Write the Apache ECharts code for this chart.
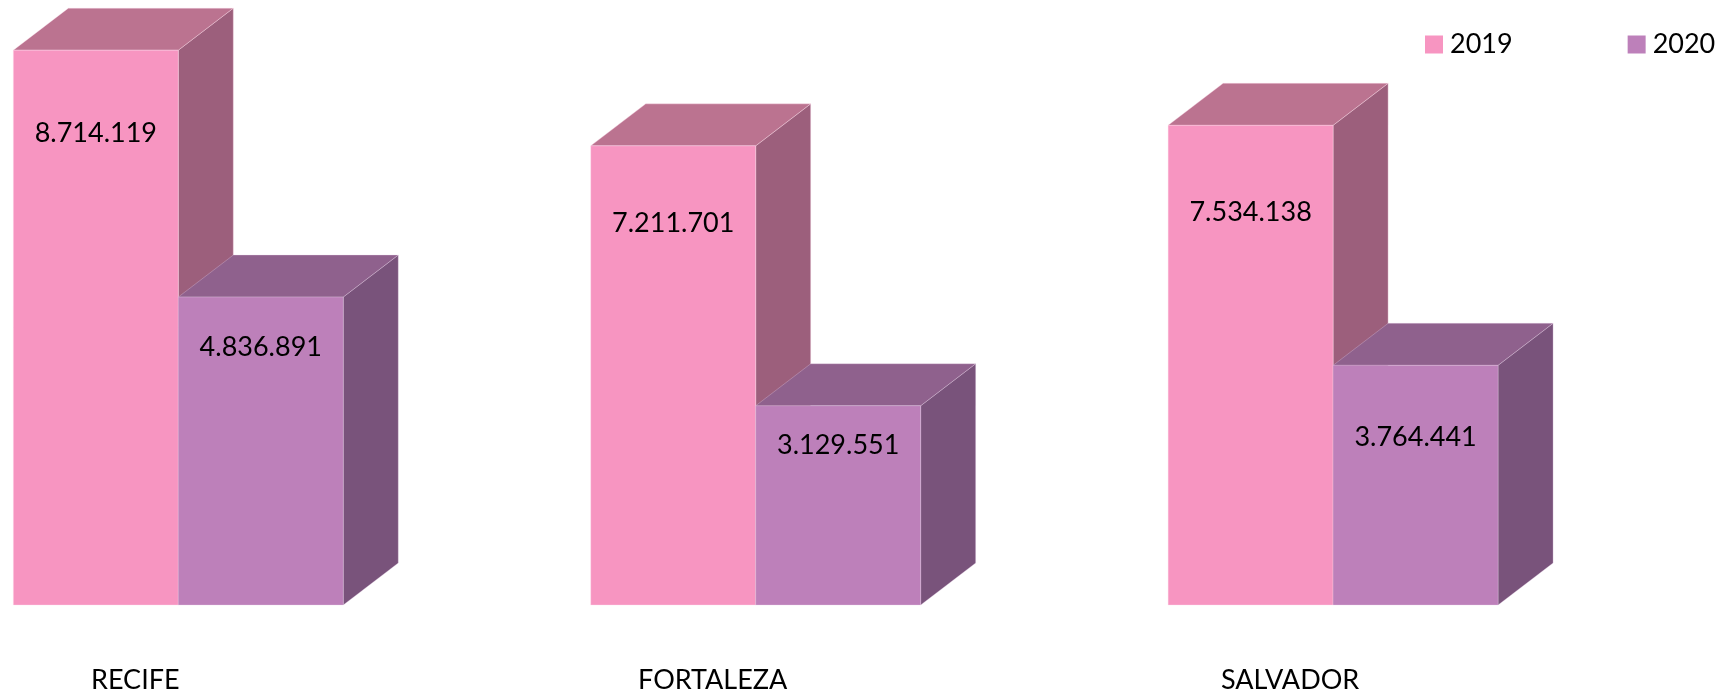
<!DOCTYPE html>
<html>
<head>
<meta charset="utf-8">
<script src="https://cdn.jsdelivr.net/npm/echarts@6/dist/echarts.min.js"></script>
<style>
html,body{margin:0;padding:0;background:#fff;}
#chart{width:1726px;height:693px;}
</style>
</head>
<body>
<div id="chart"></div>
<script>
const categories = ['RECIFE', 'FORTALEZA', 'SALVADOR'];
const seriesNames = ['2019', '2020'];
const values2019 = [8714119, 7211701, 7534138];
const values2020 = [4836891, 3129551, 3764441];

// label placement (pixels below each bar's top edge) – style only
const labelOffsets = [[83, 77, 87], [50, 40, 72]];

function fmt(v) {
  return String(v).replace(/\B(?=(\d{3})+(?!\d))/g, '.');
}

const palettes = [
  { front: '#F795C1', side: '#9C5F7C', top: '#BB7390', edge: 'rgba(255,220,235,0.6)' },
  { front: '#BD80BA', side: '#79537B', top: '#8F618D', edge: 'rgba(235,210,235,0.5)' }
];
const FONT = 'Lato, "Open Sans", sans-serif';

function makeRender(si) {
  const pal = palettes[si];
  return function (params, api) {
    const cat = api.value(0);
    const val = api.value(1);
    const base = api.coord([cat, 0]);
    const topPt = api.coord([cat, val]);
    const band = api.size([1, 0])[0];
    const w = band * 0.2857;
    const x0 = si === 0 ? base[0] - w : base[0];
    const x1 = x0 + w;
    const yb = base[1];
    const yt = topPt[1];
    const dx = 55, dy = 42;
    return {
      type: 'group',
      children: [
        {
          type: 'polygon',
          shape: { points: [[x1, yt], [x1 + dx, yt - dy], [x1 + dx, yb - dy], [x1, yb]] },
          style: { fill: pal.side, stroke: pal.edge, lineWidth: 0.6 }
        },
        {
          type: 'polygon',
          shape: { points: [[x0, yt], [x0 + dx, yt - dy], [x1 + dx, yt - dy], [x1, yt]] },
          style: { fill: pal.top, stroke: pal.edge, lineWidth: 0.6 }
        },
        {
          type: 'rect',
          shape: { x: x0, y: yt, width: w, height: yb - yt },
          style: { fill: pal.front, stroke: pal.edge, lineWidth: 0.6 }
        },
        {
          type: 'text',
          style: {
            text: fmt(val),
            x: (x0 + x1) / 2,
            y: yt + labelOffsets[si][params.dataIndex],
            align: 'center',
            verticalAlign: 'middle',
            fill: '#000',
            font: '27px ' + FONT
          }
        }
      ]
    };
  };
}

const chart = echarts.init(document.getElementById('chart'), null, { renderer: 'canvas' });
chart.setOption({
  animation: false,
  backgroundColor: '#fff',
  legend: {
    data: seriesNames,
    left: 1420,
    top: 26,
    icon: 'rect',
    itemWidth: 18,
    itemHeight: 18,
    itemGap: 115,
    textStyle: { fontFamily: FONT, fontSize: 27, color: '#000', lineHeight: 18, padding: [0, 0, 0, 2] }
  },
  grid: { left: -110.4, right: 104.2, top: 32, bottom: 88, containLabel: false, outerBoundsMode: 'none' },
  xAxis: {
    type: 'category',
    data: categories,
    axisLine: { show: false },
    axisTick: { show: false },
    splitLine: { show: false },
    axisLabel: {
      margin: 59,
      fontFamily: FONT,
      fontSize: 27,
      color: '#000',
      lineHeight: 32,
      padding: [0, 86, 0, 0]
    }
  },
  yAxis: { type: 'value', min: 0, max: 9000000, show: false },
  series: [
    {
      name: seriesNames[0],
      type: 'custom',
      renderItem: makeRender(0),
      itemStyle: { color: palettes[0].front },
      encode: { x: 0, y: 1 },
      data: values2019.map((v, i) => [i, v]),
      clip: false
    },
    {
      name: seriesNames[1],
      type: 'custom',
      renderItem: makeRender(1),
      itemStyle: { color: palettes[1].front },
      encode: { x: 0, y: 1 },
      data: values2020.map((v, i) => [i, v]),
      clip: false
    }
  ]
});
</script>
</body>
</html>
